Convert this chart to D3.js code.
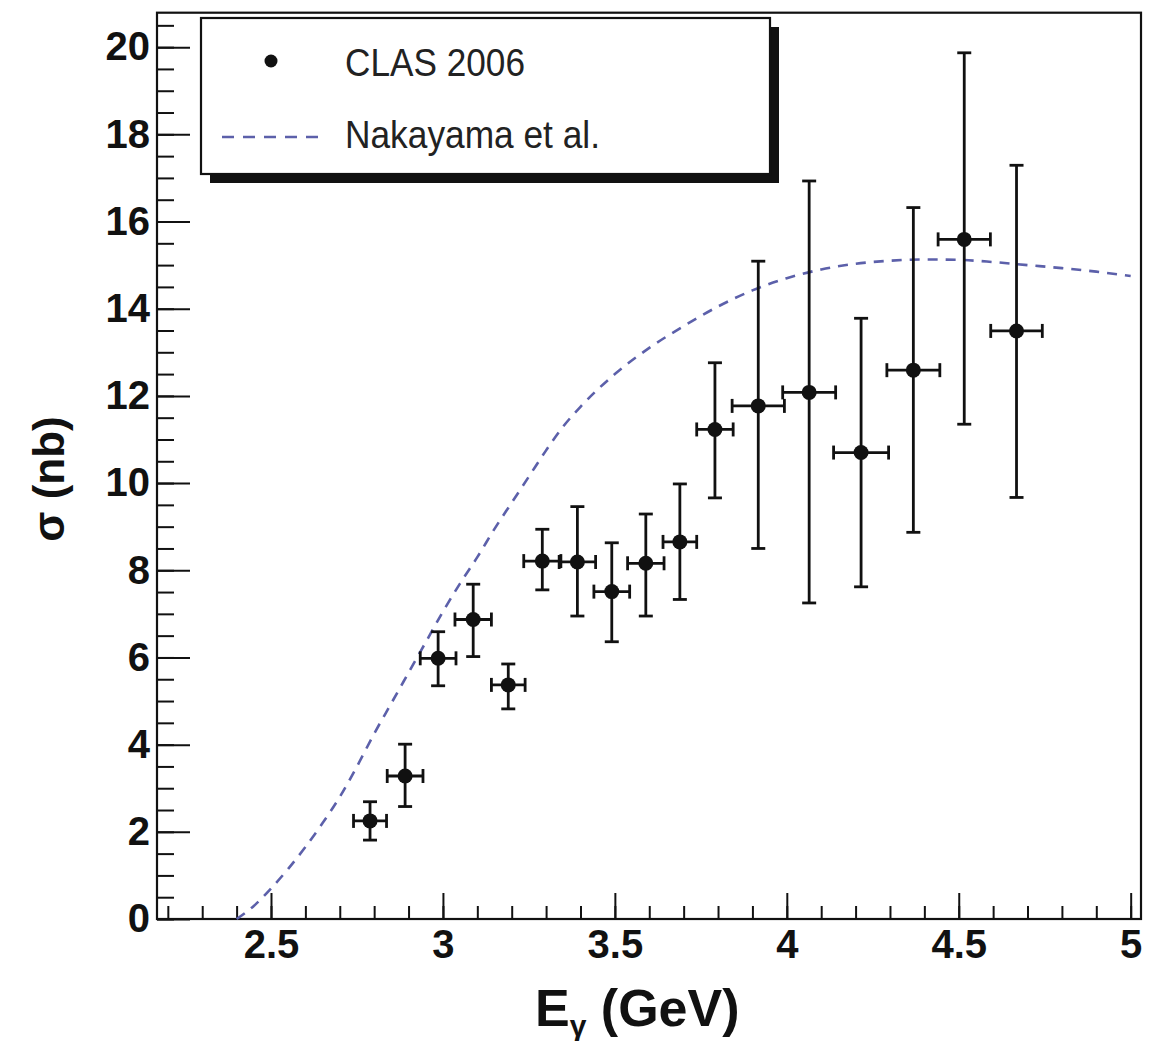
<!DOCTYPE html>
<html>
<head>
<meta charset="utf-8">
<script src="https://cdn.jsdelivr.net/npm/d3@7"></script>
<style>
  html, body { margin: 0; padding: 0; background: #fff; }
  svg { display: block; }
  text { font-family: "Liberation Sans", Arial, Helvetica, sans-serif; }
</style>
</head>
<body>
<script>
// ---- Data: CLAS 2006 measurements ----
const energy   = [2.788, 2.890, 2.986, 3.088, 3.190, 3.289, 3.391, 3.491, 3.590, 3.689, 3.791, 3.917, 4.065, 4.216, 4.368, 4.516, 4.668];
const sigma    = [2.25, 3.28, 5.98, 6.87, 5.37, 8.21, 8.19, 7.51, 8.16, 8.65, 11.23, 11.77, 12.08, 10.70, 12.59, 15.59, 13.49];
const sigmaLow = [1.81, 2.58, 5.35, 6.02, 4.82, 7.55, 6.95, 6.36, 6.95, 7.33, 9.66, 8.50, 7.25, 7.62, 8.87, 11.35, 9.67];
const sigmaHigh= [2.69, 4.01, 6.59, 7.68, 5.85, 8.94, 9.46, 8.63, 9.29, 9.98, 12.76, 15.09, 16.93, 13.78, 16.32, 19.87, 17.29];
const energyErr= [0.048, 0.052, 0.052, 0.053, 0.049, 0.054, 0.053, 0.052, 0.053, 0.049, 0.053, 0.076, 0.077, 0.080, 0.077, 0.076, 0.075];

// ---- Data: Nakayama et al. model curve ----
const curveE     = [2.40, 2.45, 2.50, 2.55, 2.60, 2.65, 2.70, 2.75, 2.80, 2.85, 2.90, 2.95, 3.00, 3.05, 3.10, 3.15, 3.20, 3.25, 3.30, 3.35, 3.40, 3.50, 3.60, 3.70, 3.80, 3.90, 4.00, 4.10, 4.20, 4.30, 4.40, 4.50, 4.60, 4.70, 4.80, 4.90, 5.00];
const curveSigma = [0.0, 0.3, 0.7, 1.15, 1.65, 2.2, 2.8, 3.5, 4.25, 4.95, 5.65, 6.35, 7.05, 7.7, 8.3, 8.95, 9.55, 10.15, 10.75, 11.3, 11.75, 12.5, 13.1, 13.6, 14.05, 14.42, 14.7, 14.9, 15.03, 15.1, 15.13, 15.12, 15.07, 15.0, 14.93, 14.85, 14.75];

// ---- Tick values ----
const xMajorTicks = [2.5, 3, 3.5, 4, 4.5, 5];
const xMinorTicks = d3.range(22, 51).map(d => d / 10);
const yMajorTicks = [0, 2, 4, 6, 8, 10, 12, 14, 16, 18, 20];
const yMinorTicks = d3.range(0, 42).map(d => d / 2);

const legendLabels = ["CLAS 2006", "Nakayama et al."];

// ---- Layout ----
const W = 1152, H = 1041;
const plot = { left: 157, right: 1141, top: 12.7, bottom: 919 };
const curveColor = "#5c60aa";

const svg = d3.select("body").append("svg").attr("width", W).attr("height", H);
svg.append("rect").attr("width", W).attr("height", H).attr("fill", "#fff");

const x = d3.scaleLinear().domain([2.1685, 5.03]).range([plot.left, plot.right]);
const y = d3.scaleLinear().domain([0, 20.79]).range([plot.bottom, plot.top]);

// Axes (ticks inside)
const xMinorAxis = d3.axisBottom(x).tickValues(xMinorTicks).tickSize(-13).tickSizeOuter(0).tickFormat("");
const xMajorAxis = d3.axisBottom(x).tickValues(xMajorTicks).tickSize(-26).tickSizeOuter(0).tickPadding(11).tickFormat(d => String(d));
const yMinorAxis = d3.axisLeft(y).tickValues(yMinorTicks).tickSize(-17).tickSizeOuter(0).tickFormat("");
const yMajorAxis = d3.axisLeft(y).tickValues(yMajorTicks).tickSize(-33).tickSizeOuter(0).tickPadding(7).tickFormat(d => String(d));

function styleAxis(g) {
  g.select(".domain").remove();
  g.selectAll(".tick line").attr("stroke", "#111").attr("stroke-width", 2);
  g.selectAll(".tick text").attr("fill", "#111").attr("font-size", 40).attr("font-weight", "bold")
    .style("font-family", "'Liberation Sans', Arial, sans-serif");
}
svg.append("g").attr("transform", `translate(0,${plot.bottom})`).call(xMinorAxis).call(styleAxis);
svg.append("g").attr("transform", `translate(0,${plot.bottom})`).call(xMajorAxis).call(styleAxis);
svg.append("g").attr("transform", `translate(${plot.left},0)`).call(yMinorAxis).call(styleAxis);
svg.append("g").attr("transform", `translate(${plot.left},0)`).call(yMajorAxis).call(styleAxis);

// Frame
svg.append("rect")
  .attr("x", plot.left).attr("y", plot.top)
  .attr("width", plot.right - plot.left).attr("height", plot.bottom - plot.top)
  .attr("fill", "none").attr("stroke", "#111").attr("stroke-width", 2.2);

// Model curve
const line = d3.line().x((d, i) => x(curveE[i])).y((d, i) => y(curveSigma[i])).curve(d3.curveMonotoneX);
svg.append("path")
  .datum(curveE)
  .attr("d", line)
  .attr("fill", "none")
  .attr("stroke", curveColor)
  .attr("stroke-width", 2.6)
  .attr("stroke-dasharray", "10,8");

// Data points with error bars
const pts = energy.map((e, i) => ({ e, s: sigma[i], lo: sigmaLow[i], hi: sigmaHigh[i], ex: energyErr[i] }));
const cap = 7;
const gp = svg.append("g").attr("stroke", "#111").attr("stroke-width", 2.8);
const pg = gp.selectAll("g.pt").data(pts).enter().append("g").attr("class", "pt");
pg.append("line").attr("x1", d => x(d.e)).attr("x2", d => x(d.e)).attr("y1", d => y(d.lo)).attr("y2", d => y(d.hi));
pg.append("line").attr("x1", d => x(d.e) - cap).attr("x2", d => x(d.e) + cap).attr("y1", d => y(d.lo)).attr("y2", d => y(d.lo));
pg.append("line").attr("x1", d => x(d.e) - cap).attr("x2", d => x(d.e) + cap).attr("y1", d => y(d.hi)).attr("y2", d => y(d.hi));
pg.append("line").attr("x1", d => x(d.e - d.ex)).attr("x2", d => x(d.e + d.ex)).attr("y1", d => y(d.s)).attr("y2", d => y(d.s));
pg.append("line").attr("x1", d => x(d.e - d.ex)).attr("x2", d => x(d.e - d.ex)).attr("y1", d => y(d.s) - cap).attr("y2", d => y(d.s) + cap);
pg.append("line").attr("x1", d => x(d.e + d.ex)).attr("x2", d => x(d.e + d.ex)).attr("y1", d => y(d.s) - cap).attr("y2", d => y(d.s) + cap);
pg.append("circle").attr("cx", d => x(d.e)).attr("cy", d => y(d.s)).attr("r", 7.5).attr("fill", "#111").attr("stroke", "none");

// Legend
const lg = svg.append("g");
const box = { x: 201, y: 18, w: 569, h: 156 };
lg.append("rect").attr("x", box.x + 9).attr("y", box.y + 9).attr("width", box.w).attr("height", box.h).attr("fill", "#111");
lg.append("rect").attr("x", box.x).attr("y", box.y).attr("width", box.w).attr("height", box.h)
  .attr("fill", "#fff").attr("stroke", "#111").attr("stroke-width", 2.2);
lg.append("circle").attr("cx", 271).attr("cy", 61).attr("r", 6.5).attr("fill", "#111");
lg.append("line").attr("x1", 222).attr("x2", 326).attr("y1", 137).attr("y2", 137)
  .attr("stroke", curveColor).attr("stroke-width", 2.4).attr("stroke-dasharray", "12,9");
lg.append("text").attr("x", 345).attr("y", 76).attr("font-size", 38).attr("fill", "#222")
  .attr("textLength", 180).attr("lengthAdjust", "spacingAndGlyphs").text(legendLabels[0]);
lg.append("text").attr("x", 345).attr("y", 148).attr("font-size", 38).attr("fill", "#222")
  .attr("textLength", 255).attr("lengthAdjust", "spacingAndGlyphs").text(legendLabels[1]);

// Axis titles
const xt = svg.append("text").attr("x", 535).attr("y", 1026).attr("font-size", 52).attr("font-weight", "bold").attr("fill", "#111");
xt.append("tspan").text("E");
xt.append("tspan").attr("font-size", 30).attr("dy", 10).text("γ");
xt.append("tspan").attr("dy", -10).text(" (GeV)");

svg.append("text")
  .attr("transform", "translate(64,479) rotate(-90)")
  .attr("text-anchor", "middle")
  .attr("font-size", 44).attr("font-weight", "bold").attr("fill", "#111")
  .text("σ (nb)");
</script>
</body>
</html>
